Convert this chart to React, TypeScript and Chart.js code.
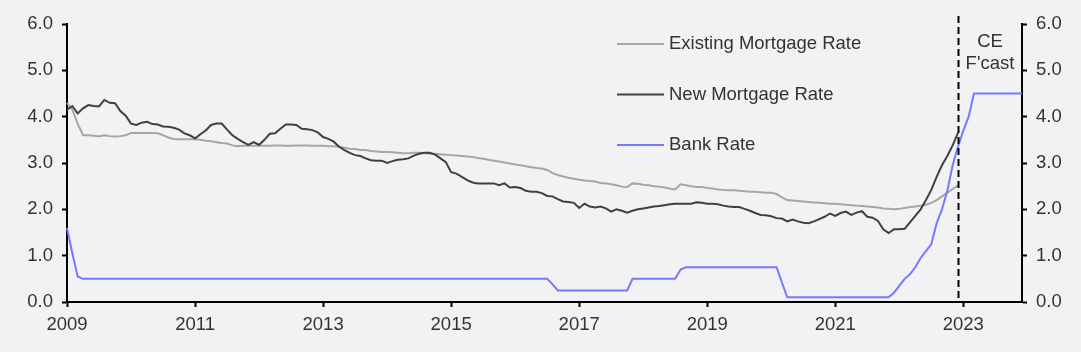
import React, { useEffect, useRef } from "react";
import { Chart, registerables } from "chart.js";

Chart.register(...registerables);

// Monthly categories, Jan 2009 .. Dec 2023
const firstYear = 2009;
const lastYear = 2023;
const months: string[] = [];
for (let y = firstYear; y <= lastYear; y++) {
  for (let m = 1; m <= 12; m++) months.push(`${y}-${String(m).padStart(2, "0")}`);
}

const yTicks = [0, 1, 2, 3, 4, 5, 6];
const forecastStart = "2022-12";

const existingMortgageRate = [
  // 2009
  4.3, 4.15, 3.85, 3.6, 3.6, 3.59, 3.58, 3.6, 3.58, 3.57, 3.58, 3.6,
  // 2010
  3.65, 3.65, 3.65, 3.65, 3.65, 3.64, 3.6, 3.55, 3.52, 3.51, 3.51, 3.51,
  // 2011
  3.51, 3.5, 3.48, 3.47, 3.45, 3.43, 3.42, 3.38, 3.36, 3.37, 3.37, 3.37,
  // 2012
  3.37, 3.37, 3.37, 3.38, 3.38, 3.37, 3.37, 3.38, 3.38, 3.38, 3.37, 3.37,
  // 2013
  3.37, 3.36, 3.36, 3.35, 3.33, 3.31, 3.3, 3.28, 3.28, 3.26, 3.25, 3.24,
  // 2014
  3.24, 3.23, 3.22, 3.21, 3.21, 3.22, 3.22, 3.21, 3.2, 3.2, 3.19, 3.18,
  // 2015
  3.17, 3.16, 3.15, 3.14, 3.13, 3.11, 3.09, 3.07, 3.05, 3.03, 3.01, 2.99,
  // 2016
  2.97, 2.95, 2.93, 2.91, 2.89, 2.88, 2.85, 2.78, 2.74, 2.71, 2.68, 2.66,
  // 2017
  2.64, 2.62, 2.61, 2.6, 2.57, 2.56, 2.54, 2.52, 2.49, 2.48, 2.56, 2.55,
  // 2018
  2.53, 2.52, 2.5, 2.49, 2.47, 2.45, 2.43, 2.54, 2.52, 2.5, 2.48, 2.48,
  // 2019
  2.46, 2.45, 2.43, 2.42, 2.41, 2.41, 2.4, 2.39, 2.38, 2.38, 2.37, 2.36,
  // 2020
  2.36, 2.33, 2.26, 2.2, 2.19, 2.18, 2.17, 2.16, 2.15, 2.14, 2.13, 2.12,
  // 2021
  2.12, 2.11, 2.1, 2.09, 2.08, 2.07, 2.06, 2.05, 2.04, 2.02, 2.01, 2.0,
  // 2022
  2.01, 2.03, 2.05, 2.06, 2.08, 2.1, 2.14, 2.2, 2.28, 2.36, 2.44, 2.52,
];

const newMortgageRate = [
  // 2009
  4.15, 4.23, 4.07, 4.18, 4.25, 4.23, 4.22, 4.36, 4.3, 4.29, 4.12, 4.02,
  // 2010
  3.85, 3.82, 3.87, 3.89, 3.84, 3.83, 3.79, 3.78, 3.76, 3.72, 3.64, 3.6,
  // 2011
  3.53, 3.62, 3.7, 3.82, 3.85, 3.85, 3.72, 3.6, 3.52, 3.45, 3.39, 3.45,
  // 2012
  3.39, 3.5, 3.63, 3.64, 3.74, 3.83, 3.83, 3.82, 3.74, 3.73, 3.71, 3.66,
  // 2013
  3.56, 3.52, 3.46, 3.35, 3.28, 3.22, 3.17, 3.15, 3.1, 3.06, 3.05, 3.05,
  // 2014
  3.0, 3.04, 3.07, 3.08, 3.1, 3.16, 3.2, 3.22, 3.22, 3.18, 3.1, 3.02,
  // 2015
  2.8, 2.77, 2.7, 2.63, 2.58, 2.56, 2.56, 2.56, 2.56, 2.52, 2.56, 2.47,
  // 2016
  2.48, 2.46, 2.4, 2.38, 2.38, 2.35, 2.29, 2.28, 2.22, 2.17, 2.16, 2.14,
  // 2017
  2.03, 2.12, 2.06, 2.04, 2.06, 2.02, 1.95, 2.0, 1.97, 1.93, 1.97, 2.0,
  // 2018
  2.02, 2.04, 2.06, 2.07, 2.09, 2.11, 2.12, 2.12, 2.12, 2.12, 2.15, 2.14,
  // 2019
  2.12, 2.12, 2.11, 2.08, 2.06, 2.05, 2.05, 2.01, 1.97, 1.92, 1.88, 1.87,
  // 2020
  1.85, 1.81, 1.8, 1.74, 1.78, 1.74, 1.71, 1.7, 1.74, 1.79, 1.84, 1.91,
  // 2021
  1.86, 1.92, 1.95, 1.88, 1.93, 1.96, 1.84, 1.82, 1.75, 1.57, 1.49, 1.57,
  // 2022
  1.57, 1.58, 1.72, 1.86, 2.0, 2.2, 2.42, 2.7, 2.95, 3.15, 3.38, 3.65,
];

const bankRate = [
  // 2009
  1.6, 1.05, 0.55, 0.5, 0.5, 0.5, 0.5, 0.5, 0.5, 0.5, 0.5, 0.5,
  // 2010
  0.5, 0.5, 0.5, 0.5, 0.5, 0.5, 0.5, 0.5, 0.5, 0.5, 0.5, 0.5,
  // 2011
  0.5, 0.5, 0.5, 0.5, 0.5, 0.5, 0.5, 0.5, 0.5, 0.5, 0.5, 0.5,
  // 2012
  0.5, 0.5, 0.5, 0.5, 0.5, 0.5, 0.5, 0.5, 0.5, 0.5, 0.5, 0.5,
  // 2013
  0.5, 0.5, 0.5, 0.5, 0.5, 0.5, 0.5, 0.5, 0.5, 0.5, 0.5, 0.5,
  // 2014
  0.5, 0.5, 0.5, 0.5, 0.5, 0.5, 0.5, 0.5, 0.5, 0.5, 0.5, 0.5,
  // 2015
  0.5, 0.5, 0.5, 0.5, 0.5, 0.5, 0.5, 0.5, 0.5, 0.5, 0.5, 0.5,
  // 2016
  0.5, 0.5, 0.5, 0.5, 0.5, 0.5, 0.5, 0.38, 0.25, 0.25, 0.25, 0.25,
  // 2017
  0.25, 0.25, 0.25, 0.25, 0.25, 0.25, 0.25, 0.25, 0.25, 0.25, 0.5, 0.5,
  // 2018
  0.5, 0.5, 0.5, 0.5, 0.5, 0.5, 0.5, 0.7, 0.75, 0.75, 0.75, 0.75,
  // 2019
  0.75, 0.75, 0.75, 0.75, 0.75, 0.75, 0.75, 0.75, 0.75, 0.75, 0.75, 0.75,
  // 2020
  0.75, 0.75, 0.42, 0.1, 0.1, 0.1, 0.1, 0.1, 0.1, 0.1, 0.1, 0.1,
  // 2021
  0.1, 0.1, 0.1, 0.1, 0.1, 0.1, 0.1, 0.1, 0.1, 0.1, 0.1, 0.2,
  // 2022
  0.35, 0.5, 0.6, 0.75, 0.95, 1.1, 1.25, 1.7, 2.0, 2.4, 2.95, 3.35,
  // 2023
  3.7, 4.0, 4.5, 4.5, 4.5, 4.5, 4.5, 4.5, 4.5, 4.5, 4.5, 4.5,
];

const seriesNames = ["Existing Mortgage Rate", "New Mortgage Rate", "Bank Rate"];
const seriesColors = ["#a6a6a6", "#404040", "#7878ff"];
const forecastLabel = ["CE", "F'cast"];

const FONT = '"Liberation Sans", Arial, sans-serif';
const FONT_SIZE = 18.5;
const TEXT_COLOR = "#333333";

export default function App() {
  const canvasRef = useRef<HTMLCanvasElement | null>(null);

  useEffect(() => {
    if (!canvasRef.current) return;

    const overlay = {
      id: "overlay",
      afterDatasetsDraw(chart: any) {
        const { ctx, chartArea, scales } = chart;
        const x = scales.x.getPixelForValue(months.indexOf(forecastStart));
        ctx.save();
        // dashed forecast divider
        ctx.strokeStyle = "#000000";
        ctx.lineWidth = 2;
        ctx.setLineDash([7, 4]);
        ctx.beginPath();
        ctx.moveTo(Math.round(x) + 0.5, 16);
        ctx.lineTo(Math.round(x) + 0.5, chartArea.bottom);
        ctx.stroke();
        ctx.setLineDash([]);
        // forecast label
        ctx.fillStyle = TEXT_COLOR;
        ctx.font = `${FONT_SIZE}px ${FONT}`;
        ctx.textAlign = "center";
        ctx.textBaseline = "middle";
        const cx = (x + chartArea.right) / 2;
        ctx.fillText(forecastLabel[0], cx, 42);
        ctx.fillText(forecastLabel[1], cx, 64);
        // legend
        ctx.textAlign = "left";
        seriesNames.forEach((name, k) => {
          const y = 44 + k * 50.5;
          ctx.strokeStyle = seriesColors[k];
          ctx.lineWidth = 2;
          ctx.beginPath();
          ctx.moveTo(617, y);
          ctx.lineTo(664, y);
          ctx.stroke();
          ctx.fillStyle = TEXT_COLOR;
          ctx.fillText(name, 669, y);
        });
        ctx.restore();
      },
    };

    const tickFont = { family: FONT, size: FONT_SIZE };

    const chart = new Chart(canvasRef.current, {
      type: "line",
      data: {
        labels: months,
        datasets: [
          {
            label: seriesNames[0],
            data: existingMortgageRate,
            borderColor: seriesColors[0],
            borderWidth: 2,
            pointRadius: 0,
            tension: 0,
            order: 3,
          },
          {
            label: seriesNames[1],
            data: newMortgageRate,
            borderColor: seriesColors[1],
            borderWidth: 2,
            pointRadius: 0,
            tension: 0,
            order: 2,
          },
          {
            label: seriesNames[2],
            data: bankRate,
            borderColor: seriesColors[2],
            borderWidth: 2,
            pointRadius: 0,
            tension: 0,
            order: 1,
          },
        ],
      },
      options: {
        animation: false,
        responsive: true,
        maintainAspectRatio: false,
        layout: { padding: { top: 24, left: 0, right: 0, bottom: 0 } },
        plugins: {
          legend: { display: false },
          tooltip: { enabled: false },
        },
        scales: {
          x: {
            type: "category",
            offset: false,
            afterBuildTicks: (scale: any) => {
              scale.ticks = scale.ticks.filter((t: any) => t.value % 24 === 0);
            },
            afterFit: (scale: any) => {
              scale.height = 50;
            },
            ticks: {
              autoSkip: false,
              maxRotation: 0,
              minRotation: 0,
              padding: 7,
              color: TEXT_COLOR,
              font: tickFont,
              callback: (value: any) => months[Number(value)].slice(0, 4),
            },
            grid: {
              drawOnChartArea: false,
              drawTicks: true,
              tickLength: 5,
              tickColor: "#000000",
              tickWidth: 2,
            },
            border: { display: true, color: "#000000", width: 2 },
          },
          y: {
            position: "left",
            min: yTicks[0],
            max: yTicks[yTicks.length - 1],
            afterBuildTicks: (scale: any) => {
              scale.ticks = yTicks.map((v) => ({ value: v }));
            },
            afterFit: (scale: any) => {
              scale.width = 67;
            },
            ticks: {
              padding: 9,
              color: TEXT_COLOR,
              font: tickFont,
              callback: (value: any) => Number(value).toFixed(1),
            },
            grid: {
              drawOnChartArea: false,
              drawTicks: true,
              tickLength: 5,
              tickColor: "#000000",
              tickWidth: 2,
            },
            border: { display: true, color: "#000000", width: 2 },
          },
          y2: {
            position: "right",
            min: yTicks[0],
            max: yTicks[yTicks.length - 1],
            afterBuildTicks: (scale: any) => {
              scale.ticks = yTicks.map((v) => ({ value: v }));
            },
            afterFit: (scale: any) => {
              scale.width = 59;
            },
            ticks: {
              padding: 9,
              color: TEXT_COLOR,
              font: tickFont,
              callback: (value: any) => Number(value).toFixed(1),
            },
            grid: {
              drawOnChartArea: false,
              drawTicks: true,
              tickLength: 5,
              tickColor: "#000000",
              tickWidth: 2,
            },
            border: { display: true, color: "#000000", width: 2 },
          },
        },
      },
      plugins: [overlay],
    });

    return () => chart.destroy();
  }, []);

  return (
    <div
      style={{
        position: "fixed",
        left: 0,
        top: 0,
        width: 1081,
        height: 352,
        background: "#f2f2f4",
      }}
    >
      <canvas ref={canvasRef} />
    </div>
  );
}
